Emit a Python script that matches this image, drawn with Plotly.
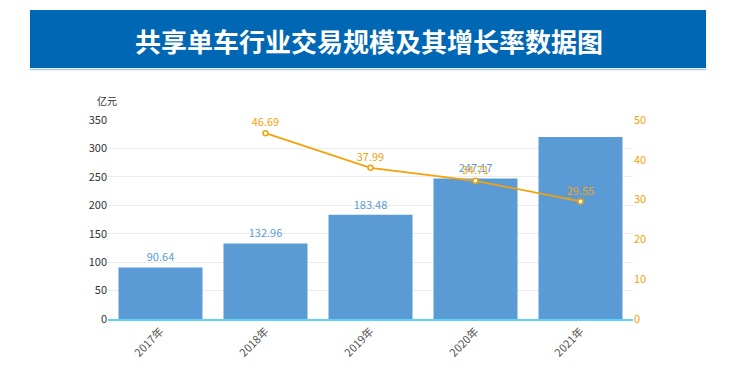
import plotly.graph_objects as go

years = ["2017年", "2018年", "2019年", "2020年", "2021年"]
scale = [90.64, 132.96, 183.48, 247.17, 320.2]
growth_years = ["2018年", "2019年", "2020年", "2021年"]
growth = [46.69, 37.99, 34.71, 29.55]
bar_label_shown = [True, True, True, True, False]

title = "共享单车行业交易规模及其增长率数据图"
unit = "亿元"

FONT = "Noto Sans CJK SC"
BLUE = "#5b9bd5"
ORANGE = "#f5a20a"
GREY = "#555555"

OFF = 8  # page body margin
W, H = 730 - OFF, 374 - OFF
# plot area in screen pixels
X0, X1, Y0, Y1 = 108, 633, 120, 319
L, R = X0 - OFF, W - (X1 - OFF)
T, B = Y0 - OFF, H - (Y1 - OFF)
pw, ph = X1 - X0, Y1 - Y0

def px(x):
    return (x - X0) / pw

def py(y):
    return (Y1 - y) / ph

fig = go.Figure()
fig.add_trace(go.Bar(
    x=years, y=scale, width=0.8,
    marker=dict(color=BLUE, line=dict(width=0)),
    text=[f"{v:.2f}" if s else "" for v, s in zip(scale, bar_label_shown)],
    textposition="outside", cliponaxis=False,
    textfont=dict(color=BLUE, size=11, family=FONT),
    hoverinfo="skip", showlegend=False,
))
fig.add_trace(go.Scatter(
    x=growth_years, y=growth, yaxis="y2", mode="lines+markers+text",
    line=dict(color=ORANGE, width=1.8),
    marker=dict(size=5, color="white", line=dict(color=ORANGE, width=1.5)),
    text=[f"{v:.2f}" for v in growth], textposition="top center",
    textfont=dict(color=ORANGE, size=11, family=FONT),
    cliponaxis=False, showlegend=False,
))

fig.update_layout(
    width=W, height=H,
    margin=dict(l=L, r=R, t=T, b=B),
    paper_bgcolor="white", plot_bgcolor="white",
    font=dict(family=FONT, color=GREY, size=11),
    bargap=0.2,
    xaxis=dict(
        type="category", tickangle=-45, tickfont=dict(size=11, color=GREY),
        showline=True, linecolor="#5fd3f3", linewidth=1.5, ticks="",
        showgrid=False, range=[-0.5, 4.5],
    ),
    yaxis=dict(
        range=[0, 350], dtick=50, showgrid=True, gridcolor="#ececec",
        zeroline=False, tickfont=dict(size=11, color="#333333"), ticks="",
        showline=False,
    ),
    yaxis2=dict(
        overlaying="y", side="right", range=[0, 50], dtick=10,
        showgrid=False, zeroline=False,
        tickfont=dict(size=11, color=ORANGE), ticks="", showline=False,
    ),
    shapes=[
        dict(type="rect", xref="paper", yref="paper",
             x0=px(30), x1=px(706), y0=py(68), y1=py(10),
             fillcolor="#0067b5", line=dict(width=0), layer="below"),
        dict(type="line", xref="paper", yref="paper",
             x0=px(30), x1=px(706), y0=py(69.5), y1=py(69.5),
             line=dict(color="#a9cbe9", width=1.5)),
    ],
    annotations=[
        dict(text=f"<b>{title}</b>", xref="paper", yref="paper",
             x=px(368.5), y=py(40), xanchor="center", yanchor="middle",
             showarrow=False, font=dict(size=26, color="white", family=FONT)),
        dict(text=unit, xref="paper", yref="paper",
             x=px(107), y=py(101), xanchor="center", yanchor="middle",
             showarrow=False, font=dict(size=10, color="#333333", family=FONT)),
    ],
)

fig.write_html("out.html")
